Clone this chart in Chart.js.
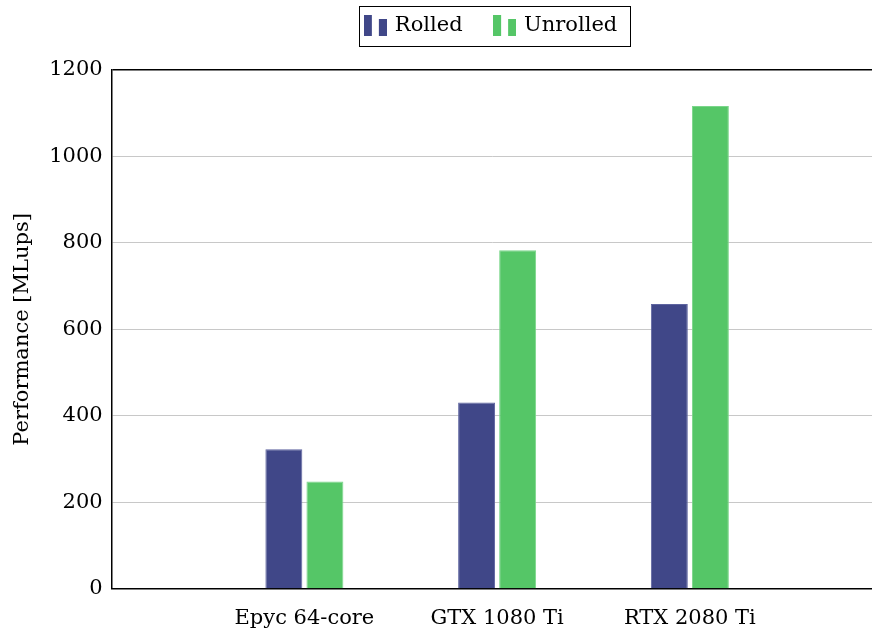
<!DOCTYPE html>
<html>
<head>
<meta charset="utf-8">
<script src="https://cdn.jsdelivr.net/npm/chart.js@4"></script>
<style>
  html, body { margin: 0; padding: 0; background: #fff; }
  #wrap { width: 872px; height: 633px; }
</style>
</head>
<body>
<div id="wrap"><canvas id="c" width="872" height="633"></canvas></div>
<script>
const categories = ['Epyc 64-core', 'GTX 1080 Ti', 'RTX 2080 Ti'];
const seriesNames = ['Rolled', 'Unrolled'];
const rolled = [323, 431, 659];
const unrolled = [248, 783, 1117];
const yTicks = [0, 200, 400, 600, 800, 1000, 1200];

const colors = ['#404788', '#55c667'];
const borders = ['#5e64a0', '#7ad68a'];
const FONT = '"DejaVu Serif", serif';

function legendIcon(color) {
  const cv = document.createElement('canvas');
  cv.width = 23; cv.height = 21;
  const g = cv.getContext('2d');
  g.fillStyle = color;
  g.fillRect(0, 0, 8, 21);
  g.fillRect(15, 4, 8, 17);
  return cv;
}

const xs = categories.map((_, i) => i + 1);
const mk = (arr) => arr.map((v, i) => ({ x: xs[i], y: v }));

// extra space between the legend and the plot area
const legendSpacer = {
  id: 'legendSpacer',
  beforeLayout(chart) {
    const lg = chart.legend;
    if (lg && !lg._spaced) {
      const orig = lg.fit.bind(lg);
      lg.fit = function () { orig(); this.height += 24; };
      lg._spaced = true;
    }
  }
};

const legendFrame = {
  id: 'legendFrame',
  afterDraw(chart) {
    const boxes = chart.legend.legendHitBoxes;
    if (!boxes || !boxes.length) return;
    const first = boxes[0], last = boxes[boxes.length - 1];
    const ctx = chart.ctx;
    ctx.save();
    ctx.strokeStyle = '#000';
    ctx.lineWidth = 1;
    const l = Math.round(first.left - 7) + 0.5;
    const r = Math.round(last.left + last.width + 13) + 0.5;
    const t = Math.round(first.top - 9) + 0.5;
    const b = Math.round(first.top + first.height + 10) + 0.5;
    ctx.strokeRect(l, t, r - l, b - t);
    ctx.restore();
  }
};

new Chart(document.getElementById('c'), {
  type: 'bar',
  data: {
    datasets: [
      { label: seriesNames[0], data: mk(rolled), backgroundColor: colors[0], borderColor: borders[0], borderWidth: 1,
        pointStyle: legendIcon(colors[0]) },
      { label: seriesNames[1], data: mk(unrolled), backgroundColor: colors[1], borderColor: borders[1], borderWidth: 1,
        pointStyle: legendIcon(colors[1]) }
    ]
  },
  options: {
    responsive: false,
    animation: false,
    devicePixelRatio: 1,
    categoryPercentage: 0.426,
    barPercentage: 0.9,
    layout: { padding: { left: 10, right: 0, top: -18, bottom: -15 } },
    plugins: {
      tooltip: { enabled: false },
      legend: {
        position: 'top',
        fullSize: false,
        labels: {
          usePointStyle: true,
          pointStyleWidth: 18,
          boxHeight: 21,
          padding: 33,
          color: '#000',
          font: { family: FONT, size: 21 }
        }
      }
    },
    scales: {
      x: {
        type: 'linear',
        offset: false,
        bounds: 'data',
        min: 0,
        max: 3.945,
        afterBuildTicks(scale) { scale.ticks = xs.map(v => ({ value: v })); },
        ticks: {
          autoSkip: false,
          maxRotation: 0,
          color: '#000',
          padding: 17,
          font: { family: FONT, size: 21 },
          callback: (v) => categories[Math.round(v) - 1] || ''
        },
        grid: { display: false, drawTicks: false },
        border: { color: '#000', width: 1.5 }
      },
      y: {
        min: 0,
        max: 1200,
        afterBuildTicks(scale) { scale.ticks = yTicks.map(v => ({ value: v })); },
        ticks: {
          color: '#000',
          padding: 9,
          font: { family: FONT, size: 21 },
          callback: (v) => String(v)
        },
        grid: {
          drawTicks: false,
          color: (ctx) => (ctx.tick && ctx.tick.value === 1200) ? '#000' : (ctx.tick && ctx.tick.value === 0 ? 'rgba(0,0,0,0)' : '#c8c8c8'),
          lineWidth: (ctx) => (ctx.tick && ctx.tick.value === 1200) ? 1.5 : 1
        },
        border: { color: '#000', width: 1.5 },
        title: {
          display: true,
          text: 'Performance [MLups]',
          color: '#000',
          padding: { top: 0, bottom: 5 },
          font: { family: FONT, size: 21 }
        }
      }
    }
  },
  plugins: [legendSpacer, legendFrame]
});
</script>
</body>
</html>
